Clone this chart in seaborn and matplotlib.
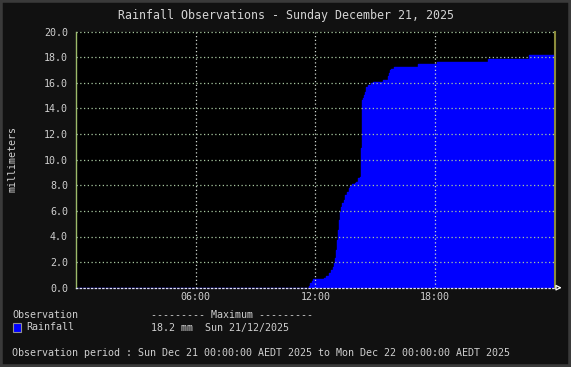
import matplotlib
matplotlib.use("Agg")
import matplotlib.pyplot as plt
from matplotlib.patches import Rectangle
import seaborn as sns

# ---- data (hours since midnight, cumulative rainfall mm) ----
hours = [0.0, 11.65, 11.68, 11.75, 11.83, 11.88, 12.38, 12.42, 12.55, 12.68,
         12.80, 12.88, 12.95, 13.00, 13.05, 13.10, 13.15, 13.20, 13.25, 13.30,
         13.35, 13.42, 13.50, 13.58, 13.68, 13.75, 13.85, 13.97, 14.05, 14.13,
         14.22, 14.27, 14.32, 14.38, 14.42, 14.48, 14.55, 14.63, 14.80, 14.88,
         15.38, 15.63, 15.68, 15.75, 15.80, 15.92, 17.13, 18.10, 20.63, 22.72,
         23.95]
rain_mm = [0.0, 0.0, 0.16, 0.34, 0.52, 0.68, 0.68, 0.78, 0.94, 1.12,
           1.38, 1.64, 1.90, 2.30, 2.94, 3.72, 4.50, 5.29, 5.94, 6.33,
           6.59, 6.85, 7.24, 7.50, 7.76, 7.97, 8.10, 8.15, 8.28, 8.54,
           8.67, 10.9, 14.66, 14.80, 15.05, 15.30, 15.70, 15.84, 15.97, 16.05,
           16.23, 16.50, 16.75, 17.00, 17.10, 17.24, 17.48, 17.63, 17.87, 18.20,
           18.20]
x_ticks = [6, 12, 18]
x_tick_labels = ["06:00", "12:00", "18:00"]
y_ticks = [0, 2, 4, 6, 8, 10, 12, 14, 16, 18, 20]

title = "Rainfall Observations - Sunday December 21, 2025"
ylabel = "millimeters"
series_name = "Rainfall"
max_text = "18.2 mm  Sun 21/12/2025"
period_text = ("Observation period : Sun Dec 21 00:00:00 AEDT 2025 to "
               "Mon Dec 22 00:00:00 AEDT 2025")

# ---- style ----
sns.set_style("dark", {"axes.facecolor": "#000000", "figure.facecolor": "#111111"})
plt.rcParams["font.family"] = ["DejaVu Sans Mono"]
TXT = "#cfcfcf"
BLUE = "#0000ff"

W, H = 571, 367
fig = plt.figure(figsize=(W / 100, H / 100), dpi=100)
fig.patch.set_facecolor("#111111")
fig.patches.append(Rectangle((0, 0), 1, 1, transform=fig.transFigure,
                             fill=False, ec="#3a3a3a", lw=4, zorder=10))

L, R, T, B = 75.7, 555.0, 31.7, 287.7
ax = fig.add_axes([L / W, 1 - B / H, (R - L) / W, (B - T) / H])
ax.set_facecolor("#000000")

sns.lineplot(x=hours, y=rain_mm, drawstyle="steps-post", color=BLUE,
             estimator=None, ax=ax, lw=1, zorder=2)
ax.fill_between(hours, rain_mm, step="post", color=BLUE, lw=0, zorder=2)

ax.set_xlim(0, 24)
ax.set_ylim(0, 20)
ax.set_xticks(x_ticks)
ax.set_xticklabels(x_tick_labels)
ax.set_yticks(y_ticks)
ax.set_yticklabels([f"{v:.1f}" for v in y_ticks])

ax.grid(False)
for yv in y_ticks[1:]:
    ax.axhline(yv, color="#a8c8a0", lw=0.9, ls=(0, (1, 2)), zorder=3,
               clip_on=False)
for xv in x_ticks:
    ax.axvline(xv, color="#d0d8d0", lw=0.9, ls=(0, (1, 2)), zorder=3)

ax.tick_params(axis="both", colors="#9cc47a", labelcolor=TXT, labelsize=7.2,
               length=5, width=0.8, direction="inout", pad=3)
ax.tick_params(axis="x", length=3, pad=1.5)
ax.spines["top"].set_visible(False)
ax.spines["left"].set_color("#9cba6a")
ax.spines["left"].set_linewidth(1)
ax.spines["right"].set_color("#8c8c3c")
ax.spines["right"].set_linewidth(1.5)
ax.spines["bottom"].set_color("#e0e0ff")
ax.spines["bottom"].set_linestyle((0, (1, 2)))
ax.spines["bottom"].set_linewidth(0.9)
ax.spines["bottom"].set_zorder(4)

ax.annotate("", xy=(1.02, 0), xytext=(0.999, 0), xycoords="axes fraction",
            arrowprops=dict(arrowstyle="-|>", fc="#111111", ec="white",
                            lw=0.9, mutation_scale=8), annotation_clip=False)

ax.set_xlabel("")
ax.set_ylabel("")

def ftext(x, y, s, **kw):
    kw.setdefault("fontsize", 7.2)
    kw.setdefault("color", TXT)
    kw.setdefault("va", "center")
    fig.text(x / W, 1 - y / H, s, **kw)

ftext(285.5, 15.5, title, fontsize=8.4, ha="center", color="#d4d4d4")
ftext(12.7, 159.5, ylabel, rotation=90, ha="center")
ftext(12, 314.5, "Observation")
ftext(151, 314.5, "--------- Maximum ---------")
fig.patches.append(Rectangle((12.5 / W, 1 - 331.5 / H), 8 / W, 9 / H,
                             transform=fig.transFigure, fc=BLUE,
                             ec="#909090", lw=0.8))
ftext(26.5, 327.5, series_name)
ftext(151, 327.5, max_text)
ftext(12, 353, period_text)

fig.savefig("out.png", dpi=100, facecolor=fig.get_facecolor())
